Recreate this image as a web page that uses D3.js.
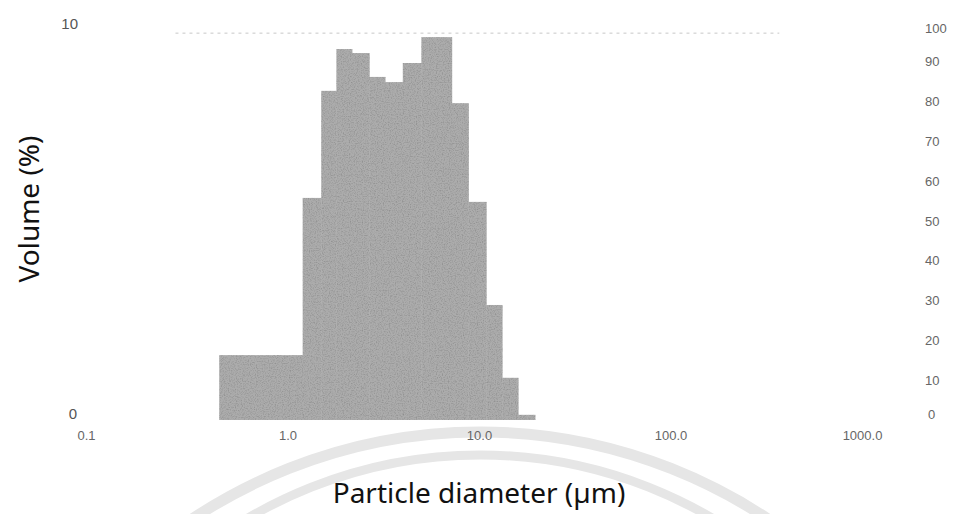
<!DOCTYPE html>
<html>
<head>
<meta charset="utf-8">
<script src="https://cdn.jsdelivr.net/npm/d3@7"></script>
<style>
  html, body { margin: 0; padding: 0; background: #fff; }
  svg { display: block; }
</style>
</head>
<body>
<svg id="chart" width="954" height="514"></svg>
<script>
// Particle size distribution: bin edges (µm) and volume (%) per bin
const binEdges = [0.44, 1.2, 1.5, 1.8, 2.17, 2.67, 3.23, 4.0, 5.0, 7.2, 8.8, 10.9, 13.2, 16.0, 19.6];
const volume   = [1.63, 5.58, 8.27, 9.32, 9.22, 8.62, 8.49, 8.97, 9.62, 7.96, 5.48, 2.89, 1.06, 0.13];

// Axis ticks
const xTicks = [0.1, 1, 10, 100, 1000];
const xTickLabels = ["0.1", "1.0", "10.0", "100.0", "1000.0"];
const leftTicks = [0, 10];
const rightTicks = [0, 10, 20, 30, 40, 50, 60, 70, 80, 90, 100];

// faint dotted trace along the top of the plot (µm range, volume %)
const topTraceX = [0.26, 370];
const topTraceY = 9.72;

const svg = d3.select("#chart");

// printed-histogram grain for the bars
const defs = svg.append("defs");
const grain = defs.append("filter").attr("id", "grain")
  .attr("x", 0).attr("y", 0).attr("width", 1).attr("height", 1);
grain.append("feTurbulence")
  .attr("type", "fractalNoise").attr("baseFrequency", 0.85)
  .attr("numOctaves", 2).attr("seed", 7).attr("result", "noise");
grain.append("feColorMatrix")
  .attr("in", "noise").attr("type", "matrix")
  .attr("values", "0 0 0 0 0  0 0 0 0 0  0 0 0 0 0  0 0 0 -0.7 0.4")
  .attr("result", "dark");
grain.append("feComposite")
  .attr("in", "dark").attr("in2", "SourceGraphic").attr("operator", "in")
  .attr("result", "darkIn");
grain.append("feMerge").call(m => {
  m.append("feMergeNode").attr("in", "SourceGraphic");
  m.append("feMergeNode").attr("in", "darkIn");
});

const x = d3.scaleLog().domain([0.1, 1000]).range([96, 862]);
const yLeft = d3.scaleLinear().domain([0, 10]).range([420, 22]);
const yRight = d3.scaleLinear().domain([0, 100]).range([420, 22]);

// light seal-like arcs in the background
const seal = svg.append("g").attr("fill", "none").attr("stroke", "#e6e6e6");
seal.append("circle").attr("cx", 480).attr("cy", 951).attr("r", 519).attr("stroke-width", 11);
seal.append("circle").attr("cx", 480).attr("cy", 913).attr("r", 458).attr("stroke-width", 9);

const bins = volume.map((v, i) => ({ x0: binEdges[i], x1: binEdges[i + 1], v }));

svg.append("g")
  .attr("filter", "url(#grain)")
  .selectAll("rect")
  .data(bins)
  .join("rect")
  .attr("x", d => x(d.x0))
  .attr("width", d => x(d.x1) - x(d.x0) + 0.5)
  .attr("y", d => yLeft(d.v))
  .attr("height", d => yLeft(0) - yLeft(d.v))
  .attr("fill", "#acacac");

svg.append("line")
  .attr("x1", x(topTraceX[0])).attr("x2", x(topTraceX[1]))
  .attr("y1", yLeft(topTraceY)).attr("y2", yLeft(topTraceY))
  .attr("stroke", "#c8c8c8").attr("stroke-width", 1)
  .attr("stroke-dasharray", "3,4");

const tickFont = "'Liberation Sans', Arial, sans-serif";

// bottom axis
const xAxis = d3.axisBottom(x)
  .tickValues(xTicks)
  .tickSize(0)
  .tickFormat((d, i) => xTickLabels[i]);
const gx = svg.append("g").attr("transform", "translate(0,428)").call(xAxis);
gx.select(".domain").remove();
gx.selectAll("text")
  .attr("font-family", tickFont).attr("font-size", 13).attr("fill", "#666")
  .attr("dy", "0.71em");
gx.selectAll(".tick").filter((d, i) => i === 0).select("text").attr("dx", -10);

// left axis (volume %)
const yAxisL = d3.axisLeft(yLeft).tickValues(leftTicks).tickSize(0).tickFormat(d3.format("d"));
const gl = svg.append("g").attr("transform", "translate(78,0)").call(yAxisL);
gl.select(".domain").remove();
gl.selectAll("text")
  .attr("font-family", tickFont).attr("font-size", 15).attr("fill", "#555")
  .attr("x", 0);
gl.selectAll(".tick").filter(d => d === 0).attr("transform", `translate(-1,${yLeft(0) - 6})`);
gl.selectAll(".tick").filter(d => d === 10).attr("transform", `translate(0,${yLeft(10) + 2})`);

// right axis (cumulative %)
const yAxisR = d3.axisRight(yRight).tickValues(rightTicks).tickSize(0).tickFormat(d3.format("d"));
const gr = svg.append("g").attr("transform", "translate(925,0)").call(yAxisR);
gr.select(".domain").remove();
gr.selectAll("text")
  .attr("font-family", tickFont).attr("font-size", 13).attr("fill", "#666")
  .attr("x", 0);
gr.selectAll(".tick").filter(d => d === 0).attr("transform", `translate(3,${yRight(0) - 5})`);
gr.selectAll(".tick").filter(d => d === 100).attr("transform", `translate(0,${yRight(100) + 7})`);

// axis titles
const titleFont = "'Noto Sans', 'Open Sans', sans-serif";
svg.append("text")
  .attr("x", 479).attr("y", 503)
  .attr("text-anchor", "middle")
  .attr("font-family", titleFont).attr("font-size", 28).attr("fill", "#111")
  .text("Particle diameter (µm)");

svg.append("text")
  .attr("transform", "translate(39,209) rotate(-90)")
  .attr("text-anchor", "middle")
  .attr("font-family", titleFont).attr("font-size", 28).attr("fill", "#111")
  .text("Volume (%)");
</script>
</body>
</html>
